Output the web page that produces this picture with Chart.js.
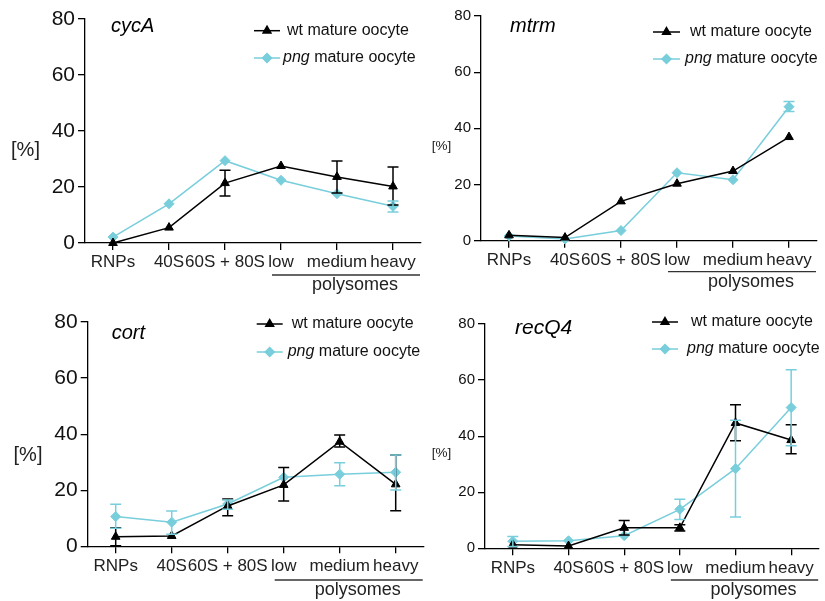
<!DOCTYPE html>
<html>
<head>
<meta charset="utf-8">
<script src="https://cdn.jsdelivr.net/npm/chart.js@4/dist/chart.umd.min.js"></script>
<style>
    html, body { margin: 0; padding: 0; background: #fff; }
    #wrap { position: relative; width: 825px; height: 601px; }
    canvas { position: absolute; left: 0; top: 0; }
</style>
</head>
<body>
<div id="wrap">
    <canvas id="cycA" width="825" height="601"></canvas>
    <canvas id="mtrm" width="825" height="601"></canvas>
    <canvas id="cort" width="825" height="601"></canvas>
    <canvas id="recQ4" width="825" height="601"></canvas>
</div>
<script>
const categories = ["RNPs", "40S", "60S + 80S", "low", "medium", "heavy"];
const yTickValues = [0, 20, 40, 60, 80];
const seriesNames = ["wt mature oocyte", "png mature oocyte"];

// cycA
const cycaWt = [0, 5.5, 21.4, 27.5, 23.6, 20.2];
const cycaWtHi = [null, null, 26.0, null, 29.3, 27.1];
const cycaWtLo = [null, null, 16.8, null, 17.9, 13.6];
const cycaPng = [2.1, 14.0, 29.4, 22.4, 17.6, 13.1];
const cycaPngHi = [null, null, null, null, null, 15.0];
const cycaPngLo = [null, null, null, null, null, 11.1];

// mtrm
const mtrmWt = [1.9, 1.1, 14.0, 20.3, 24.8, 36.9];
const mtrmPng = [1.7, 0.6, 3.6, 24.2, 21.7, 47.7];
const mtrmPngHi = [null, null, null, null, null, 49.6];
const mtrmPngLo = [null, null, null, null, null, 46.0];

// cort
const cortWt = [3.4, 3.7, 14.4, 21.9, 37.3, 22.1];
const cortWtHi = [6.6, null, 16.9, 28.1, 39.7, 32.6];
const cortWtLo = [0.2, null, 10.9, 16.2, 35.4, 12.7];
const cortPng = [10.6, 8.6, 15.1, 24.6, 25.7, 26.4];
const cortPngHi = [15.0, 12.6, 16.5, null, 29.8, 32.6];
const cortPngLo = [6.4, 4.3, 13.2, null, 21.6, 20.1];

// recQ4
const recq4Wt = [1.3, 0.8, 7.3, 7.3, 44.7, 38.6];
const recq4WtHi = [null, null, 9.9, 8.4, 51.2, 44.1];
const recq4WtLo = [null, null, 4.7, 6.2, 38.4, 33.7];
const recq4Png = [2.5, 2.7, 4.5, 13.9, 28.4, 50.2];
const recq4PngHi = [4.2, null, null, 17.5, 45.7, 63.7];
const recq4PngLo = [0.6, null, null, 10.3, 11.2, 36.6];

const BLACK = "#000000";
const CYAN = "#78cedb";
const FONT = "'Liberation Sans', Arial, Helvetica, sans-serif";

// Error bars, gene name, legend, [%] label and the polysomes bracket
const decorPlugin = {
    id: "decor",
    afterDatasetsDraw(chart) {
        const ctx = chart.ctx;
        const xs = chart.scales.x;
        const ys = chart.scales.y;
        ctx.save();
        chart.data.datasets.forEach(ds => {
            if (!ds.hi) return;
            ctx.strokeStyle = ds.borderColor;
            ctx.lineWidth = 1.5;
            ds.hi.forEach((h, i) => {
                const l = ds.lo[i];
                if (h == null || l == null) return;
                const x = xs.getPixelForValue(i);
                const yh = ys.getPixelForValue(h);
                const yl = ys.getPixelForValue(l);
                ctx.beginPath();
                ctx.moveTo(x, yh); ctx.lineTo(x, yl);
                ctx.moveTo(x - 5.5, yh); ctx.lineTo(x + 5.5, yh);
                ctx.moveTo(x - 5.5, yl); ctx.lineTo(x + 5.5, yl);
                ctx.stroke();
            });
        });
        ctx.restore();
    },
    afterDraw(chart) {
        const ctx = chart.ctx;
        const p = chart.options.plugins.decor;
        const area = chart.chartArea;
        const xs = chart.scales.x;
        ctx.save();
        ctx.fillStyle = "#000";
        ctx.textBaseline = "middle";

        // gene name
        ctx.font = "italic " + p.geneSize + "px " + FONT;
        ctx.textAlign = "left";
        ctx.fillText(p.gene, area.left + p.geneDx, area.top + p.geneDy);

        // [%]
        ctx.font = p.unitSize + "px " + FONT;
        ctx.textAlign = "center";
        ctx.fillStyle = "#222";
        ctx.fillText("[%]", area.left + p.unitDx, area.top + p.unitDy);

        // legend
        const lg = p.legend;
        const rows = [
            { color: BLACK, style: "triangle", dy: lg.dy1, tx: lg.tx1 },
            { color: CYAN, style: "rectRot", dy: lg.dy2, tx: lg.tx2 }
        ];
        rows.forEach((r, k) => {
            const y = area.top + r.dy;
            const x0 = area.left + lg.x0;
            const x1 = area.left + lg.x1;
            ctx.strokeStyle = r.color;
            ctx.lineWidth = 1.5;
            ctx.beginPath();
            ctx.moveTo(x0, y); ctx.lineTo(x1, y);
            ctx.stroke();
            ctx.fillStyle = r.color;
            Chart.helpers.drawPoint(ctx, { pointStyle: r.style, radius: 4.5, borderWidth: 1 }, (x0 + x1) / 2, y);
            ctx.fillStyle = "#111";
            ctx.textAlign = "left";
            const tx = area.left + r.tx;
            if (k === 0) {
                ctx.font = lg.size + "px " + FONT;
                ctx.fillText(seriesNames[0], tx, y);
            } else {
                const parts = seriesNames[1].split(" ");
                ctx.font = "italic " + lg.size + "px " + FONT;
                ctx.fillText(parts[0], tx, y);
                const w = ctx.measureText(parts[0] + " ").width;
                ctx.font = lg.size + "px " + FONT;
                ctx.fillText(parts.slice(1).join(" "), tx + w, y);
            }
        });

        // polysomes bracket
        const ux0 = xs.getPixelForValue(3) - 9;
        const ux1 = xs.getPixelForValue(5) + 27;
        const uy = area.bottom + p.bracketDy;
        ctx.strokeStyle = "#333";
        ctx.lineWidth = 1.3;
        ctx.beginPath();
        ctx.moveTo(ux0, uy); ctx.lineTo(ux1, uy);
        ctx.stroke();
        ctx.fillStyle = "#222";
        ctx.font = "18px " + FONT;
        ctx.textAlign = "center";
        ctx.fillText("polysomes", (ux0 + ux1) / 2 + 9, uy + 10.5);
        ctx.restore();
    }
};

function makePanel(id, p) {
    const Y_W = 60, X_H = 30;
    const plotW = 336;
    const axisStyle = {
        grid: { drawOnChartArea: false, drawTicks: true, tickLength: 7, color: "#000", lineWidth: 1.3, offset: false },
        border: { display: true, color: "#000", width: 1.3 }
    };
    return new Chart(document.getElementById(id), {
        type: "line",
        data: {
            labels: categories,
            datasets: [
                {
                    label: seriesNames[0],
                    data: p.wt, hi: p.wtHi, lo: p.wtLo,
                    borderColor: BLACK, backgroundColor: BLACK,
                    borderWidth: 1.5, pointStyle: "triangle", pointRadius: 5,
                    pointBorderWidth: 1, tension: 0, clip: false
                },
                {
                    label: seriesNames[1],
                    data: p.png, hi: p.pngHi, lo: p.pngLo,
                    borderColor: CYAN, backgroundColor: CYAN,
                    borderWidth: 1.5, pointStyle: "rectRot", pointRadius: 5,
                    pointBorderWidth: 1, tension: 0, clip: false
                }
            ]
        },
        options: {
            responsive: false,
            animation: false,
            events: [],
            layout: {
                padding: {
                    left: p.left - Y_W,
                    top: p.top,
                    right: 825 - p.left - plotW,
                    bottom: 601 - p.bottom - X_H
                }
            },
            plugins: {
                legend: { display: false },
                tooltip: { enabled: false },
                decor: p.decor
            },
            scales: {
                x: {
                    offset: true,
                    afterFit: s => { s.height = X_H; },
                    ...axisStyle,
                    ticks: {
                        autoSkip: false, maxRotation: 0, minRotation: 0,
                        color: "#222", padding: 2.5,
                        font: { family: FONT, size: 17 }
                    }
                },
                y: {
                    min: 0, max: 80,
                    afterFit: s => { s.width = Y_W; },
                    afterBuildTicks: s => { s.ticks = yTickValues.map(v => ({ value: v })); },
                    ...axisStyle,
                    ticks: {
                        color: "#111", padding: 3,
                        font: { family: FONT, size: p.yTickSize }
                    }
                }
            }
        },
        plugins: [decorPlugin]
    });
}

makePanel("cycA", {
    left: 85, top: 19, bottom: 243, yTickSize: 21,
    wt: cycaWt, wtHi: cycaWtHi, wtLo: cycaWtLo,
    png: cycaPng, pngHi: cycaPngHi, pngLo: cycaPngLo,
    decor: {
        gene: "cycA", geneSize: 20, geneDx: 26, geneDy: 7.5,
        unitSize: 20, unitDx: -59.5, unitDy: 131,
        bracketDy: 32,
        legend: { x0: 169, x1: 195, dy1: 11.7, dy2: 39, tx1: 202, tx2: 198, size: 16 }
    }
});

makePanel("mtrm", {
    left: 481, top: 16, bottom: 240.7, yTickSize: 15,
    wt: mtrmWt, wtHi: null, wtLo: null,
    png: mtrmPng, pngHi: mtrmPngHi, pngLo: mtrmPngLo,
    decor: {
        gene: "mtrm", geneSize: 20, geneDx: 29, geneDy: 10.7,
        unitSize: 13.5, unitDx: -39.5, unitDy: 130.7,
        bracketDy: 31,
        legend: { x0: 172, x1: 199, dy1: 16, dy2: 43, tx1: 209, tx2: 204, size: 16 }
    }
});

makePanel("cort", {
    left: 87.7, top: 322, bottom: 546.3, yTickSize: 21,
    wt: cortWt, wtHi: cortWtHi, wtLo: cortWtLo,
    png: cortPng, pngHi: cortPngHi, pngLo: cortPngLo,
    decor: {
        gene: "cort", geneSize: 20, geneDx: 24, geneDy: 11,
        unitSize: 20, unitDx: -59.7, unitDy: 133,
        bracketDy: 33.7,
        legend: { x0: 169, x1: 195, dy1: 2, dy2: 30, tx1: 204, tx2: 200, size: 16 }
    }
});

makePanel("recQ4", {
    left: 485, top: 324, bottom: 548.3, yTickSize: 15,
    wt: recq4Wt, wtHi: recq4WtHi, wtLo: recq4WtLo,
    png: recq4Png, pngHi: recq4PngHi, pngLo: recq4PngLo,
    decor: {
        gene: "recQ4", geneSize: 21, geneDx: 30, geneDy: 4,
        unitSize: 13.5, unitDx: -43.5, unitDy: 129,
        bracketDy: 31.7,
        legend: { x0: 167, x1: 193, dy1: -2, dy2: 25, tx1: 206, tx2: 202, size: 16 }
    }
});
</script>
</body>
</html>
